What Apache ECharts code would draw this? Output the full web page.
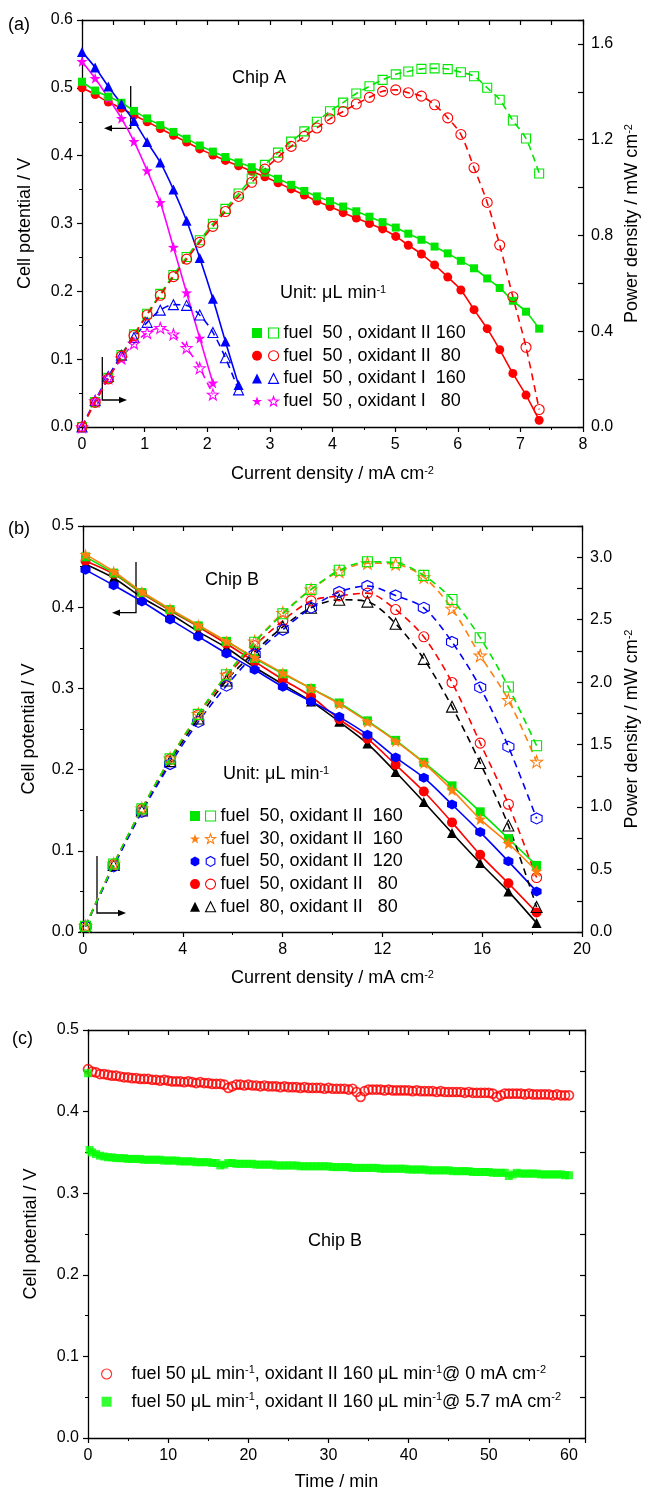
<!DOCTYPE html>
<html><head><meta charset="utf-8">
<script src="https://cdn.jsdelivr.net/npm/echarts@6/dist/echarts.min.js"></script>
<style>html,body{margin:0;padding:0;background:#fff}#c{width:649px;height:1493px}</style>
</head><body><div id="c"></div>
<script>
// ---------- Panel (a): Chip A ----------
const aX = [0,0.21,0.42,0.63,0.83,1.04,1.25,1.46,1.67,1.88,2.09,2.29,2.5,2.71,2.92,3.13,3.34,3.55,3.75,3.96,4.17,4.38,4.59,4.8,5.01,5.21,5.42,5.63,5.84,6.05,6.26,6.47,6.67,6.88,7.09,7.3];
const aGreenV = [0.509,0.496,0.487,0.478,0.466,0.455,0.445,0.435,0.425,0.415,0.406,0.398,0.39,0.383,0.375,0.366,0.357,0.348,0.34,0.333,0.325,0.318,0.31,0.302,0.294,0.285,0.276,0.266,0.256,0.245,0.234,0.219,0.205,0.186,0.17,0.145];
const aGreenP = [0,0.104,0.205,0.301,0.387,0.473,0.556,0.635,0.71,0.78,0.849,0.911,0.975,1.038,1.095,1.146,1.192,1.235,1.275,1.319,1.355,1.393,1.423,1.45,1.473,1.485,1.496,1.498,1.495,1.482,1.465,1.417,1.367,1.28,1.205,1.059];
const aRedV = [0.5,0.49,0.479,0.47,0.46,0.45,0.44,0.43,0.42,0.41,0.401,0.393,0.385,0.377,0.369,0.36,0.351,0.342,0.333,0.325,0.316,0.308,0.3,0.292,0.281,0.268,0.255,0.239,0.221,0.202,0.173,0.145,0.114,0.079,0.047,0.01];
const aRedP = [0,0.103,0.201,0.296,0.382,0.468,0.55,0.628,0.701,0.771,0.838,0.9,0.963,1.022,1.077,1.127,1.172,1.214,1.249,1.287,1.318,1.349,1.377,1.402,1.408,1.396,1.382,1.346,1.291,1.222,1.083,0.938,0.76,0.544,0.333,0.073];
const aBlueX = [0,0.21,0.42,0.63,0.83,1.04,1.25,1.46,1.67,1.88,2.09,2.29,2.5];
const aBlueV = [0.553,0.53,0.502,0.476,0.451,0.42,0.39,0.35,0.304,0.249,0.189,0.126,0.062];
const aBlueP = [0,0.111,0.211,0.3,0.374,0.437,0.488,0.511,0.508,0.468,0.395,0.289,0.155];
const aMagX = [0,0.21,0.42,0.63,0.83,1.04,1.25,1.46,1.67,1.88,2.09];
const aMagV = [0.539,0.514,0.485,0.455,0.421,0.378,0.331,0.265,0.198,0.131,0.065];
const aMagP = [0,0.108,0.204,0.287,0.349,0.393,0.414,0.387,0.331,0.246,0.136];
const aNames = ['fuel  50 , oxidant II 160','fuel  50 , oxidant II  80','fuel  50 , oxidant I  160','fuel  50 , oxidant I   80'];

// ---------- Panel (b): Chip B ----------
const bX = [0.1,1.23,2.36,3.49,4.62,5.75,6.88,8.01,9.14,10.27,11.4,12.53,13.66,14.79,15.92,17.05,18.18];
const bGreenV = [0.462,0.442,0.418,0.397,0.377,0.358,0.337,0.318,0.3,0.282,0.26,0.236,0.209,0.18,0.148,0.115,0.082];
const bGreenP = [0.046,0.544,0.986,1.386,1.742,2.059,2.319,2.547,2.742,2.896,2.964,2.957,2.855,2.662,2.356,1.961,1.491];
const bOrangeV = [0.465,0.444,0.419,0.398,0.378,0.358,0.338,0.319,0.3,0.281,0.259,0.235,0.208,0.175,0.139,0.109,0.075];
const bOrangeP = [0.047,0.546,0.989,1.389,1.746,2.059,2.325,2.555,2.742,2.886,2.953,2.945,2.841,2.588,2.213,1.858,1.364];
const bBlueV = [0.446,0.427,0.407,0.385,0.364,0.343,0.323,0.302,0.284,0.265,0.243,0.215,0.19,0.157,0.123,0.087,0.05];
const bBlueP = [0.045,0.525,0.961,1.344,1.682,1.972,2.222,2.419,2.596,2.722,2.77,2.694,2.595,2.322,1.958,1.483,0.909];
const bRedV = [0.457,0.441,0.417,0.396,0.376,0.355,0.333,0.311,0.29,0.262,0.238,0.206,0.173,0.135,0.095,0.06,0.024];
const bRedP = [0.046,0.542,0.984,1.382,1.737,2.041,2.291,2.491,2.651,2.691,2.713,2.581,2.363,1.997,1.512,1.023,0.436];
const bBlackV = [0.453,0.436,0.412,0.392,0.37,0.35,0.326,0.305,0.284,0.259,0.232,0.197,0.16,0.122,0.085,0.05,0.011];
const bBlackP = [0.045,0.536,0.972,1.368,1.709,2.013,2.243,2.443,2.596,2.66,2.645,2.468,2.186,1.804,1.353,0.853,0.2];
const bNames = ['fuel  50, oxidant II  160','fuel  30, oxidant II  160','fuel  50, oxidant II  120','fuel  50, oxidant II   80','fuel  80, oxidant II   80'];

// ---------- Panel (c): stability ----------
const cRedT = [0,0.5,1,1.5,2,2.5,3,3.5,4,4.5,5,5.5,6,6.5,7,7.5,8,8.5,9,9.5,10,10.5,11,11.5,12,12.5,13,13.5,14,14.5,15,15.5,16,16.5,17,17.5,18,18.5,19,19.5,20,20.5,21,21.5,22,22.5,23,23.5,24,24.5,25,25.5,26,26.5,27,27.5,28,28.5,29,29.5,30,30.5,31,31.5,32,32.5,33,33.5,34,34.5,35,35.5,36,36.5,37,37.5,38,38.5,39,39.5,40,40.5,41,41.5,42,42.5,43,43.5,44,44.5,45,45.5,46,46.5,47,47.5,48,48.5,49,49.5,50,50.5,51,51.5,52,52.5,53,53.5,54,54.5,55,55.5,56,56.5,57,57.5,58,58.5,59,59.5,60];
const cRedV = [0.452,0.449,0.448,0.446,0.446,0.445,0.444,0.444,0.443,0.442,
 0.442,0.441,0.441,0.440,0.440,0.440,0.439,0.439,0.438,0.439,
 0.438,0.437,0.437,0.437,0.436,0.437,0.436,0.435,0.436,0.435,
 0.435,0.434,0.434,0.434,0.433,0.429,0.431,0.433,0.433,0.432,
 0.433,0.432,0.432,0.431,0.432,0.431,0.431,0.431,0.430,0.431,
 0.430,0.430,0.430,0.429,0.430,0.429,0.429,0.429,0.429,0.428,
 0.429,0.428,0.428,0.428,0.428,0.427,0.428,0.424,0.418,0.425,
 0.427,0.427,0.427,0.427,0.426,0.427,0.426,0.426,0.426,0.426,
 0.426,0.425,0.426,0.425,0.425,0.425,0.425,0.424,0.425,0.424,
 0.424,0.424,0.424,0.424,0.423,0.424,0.423,0.423,0.423,0.423,
 0.423,0.422,0.418,0.420,0.422,0.422,0.422,0.422,0.422,0.421,
 0.422,0.421,0.421,0.421,0.421,0.421,0.420,0.421,0.420,0.420,
 0.420];
const cGreenT = [0,0.2,0.5,1,1.5,2,2.5,3,3.5,4,4.5,5,5.5,6,6.5,7,7.5,8,8.5,9,9.5,10,10.5,11,11.5,12,12.5,13,13.5,14,14.5,15,15.5,16,16.5,17,17.5,18,18.5,19,19.5,20,20.5,21,21.5,22,22.5,23,23.5,24,24.5,25,25.5,26,26.5,27,27.5,28,28.5,29,29.5,30,30.5,31,31.5,32,32.5,33,33.5,34,34.5,35,35.5,36,36.5,37,37.5,38,38.5,39,39.5,40,40.5,41,41.5,42,42.5,43,43.5,44,44.5,45,45.5,46,46.5,47,47.5,48,48.5,49,49.5,50,50.5,51,51.5,52,52.5,53,53.5,54,54.5,55,55.5,56,56.5,57,57.5,58,58.5,59,59.5,60];
const cGreenV = [0.447,0.353,
 0.350,0.348,0.346,0.345,0.344,0.344,0.343,0.343,0.343,0.342,
 0.342,0.342,0.342,0.341,0.341,0.341,0.341,0.341,0.340,0.340,
 0.340,0.340,0.339,0.339,0.339,0.339,0.338,0.338,0.338,0.338,
 0.337,0.337,0.334,0.335,0.337,0.337,0.336,0.336,0.336,0.336,
 0.336,0.335,0.335,0.335,0.335,0.335,0.334,0.334,0.334,0.334,
 0.334,0.334,0.333,0.333,0.333,0.333,0.333,0.333,0.333,0.333,
 0.332,0.332,0.332,0.332,0.332,0.331,0.331,0.331,0.331,0.331,
 0.331,0.331,0.330,0.330,0.330,0.330,0.330,0.330,0.330,0.329,
 0.329,0.329,0.329,0.329,0.328,0.328,0.328,0.328,0.328,0.328,
 0.327,0.327,0.327,0.327,0.327,0.326,0.326,0.326,0.326,0.326,
 0.325,0.325,0.325,0.325,0.321,0.323,0.325,0.324,0.324,0.324,
 0.324,0.324,0.323,0.323,0.323,0.323,0.323,0.323,0.322,0.322];
const cLegend = {
  cRed: '   fuel 50 \u03bcL min{s|-1}, oxidant II 160 \u03bcL min{s|-1}@ 0 mA cm{s|-2}',
  cGreen: '   fuel 50 \u03bcL min{s|-1}, oxidant II 160 \u03bcL min{s|-1}@ 5.7 mA cm{s|-2}'
};

// ---------- styling helpers ----------
const FONT = 'Liberation Sans, Arial, Helvetica, sans-serif';
const STAR = 'path://M0,-10L2.35,-3.24L9.51,-3.09L3.8,1.24L5.88,8.09L0,4L-5.88,8.09L-3.8,1.24L-9.51,-3.09L-2.35,-3.24Z';
const HEX = 'path://M0,-10L8.66,-5L8.66,5L0,10L-8.66,5L-8.66,-5Z';
const GREEN = '#00e600', RED = '#ff0000', BLUE = '#0000ff', MAG = '#ff00ff', ORANGE = '#ff7f0f', BLACK = '#000000';
const HOLLOW = 'rgba(255,255,255,0)';
const SUP = {s: {fontSize: 11, lineHeight: 11, verticalAlign: 'top'}};

function pairs(xs, ys) { return xs.map((x, i) => [x, ys[i]]); }
function lineS(name, ai, xs, ys, color, symbol, size, open, dashed, z) {
  return {
    name, type: 'line', xAxisIndex: ai.x, yAxisIndex: ai.y, data: pairs(xs, ys),
    symbol, symbolSize: size, smooth: 0.3, z: z || 3, silent: true,
    lineStyle: {color, width: 1.6, type: dashed ? [7, 5] : 'solid'},
    itemStyle: open ? {color: HOLLOW, borderColor: color, borderWidth: 1.1} : {color, borderWidth: 0},
    emphasis: {disabled: true}
  };
}
function iconItem(name, icon, color, open, bw) {
  return {name, icon, itemStyle: open ? {color: HOLLOW, borderColor: color, borderWidth: bw || 1.1} : {color, borderWidth: 0}};
}
const axLine = {onZero: false, lineStyle: {color: '#000', width: 1.3}};
function bottomX(grid, min, max, interval, name, gap) {
  return {gridIndex: grid, type: 'value', min, max, interval, position: 'bottom',
    name, nameLocation: 'middle', nameGap: gap, nameMoveOverlap: false,
    nameTextStyle: {fontSize: 18, color: '#000', fontFamily: FONT, rich: SUP},
    axisLine: axLine, splitLine: {show: false},
    axisTick: {inside: false, length: 5, lineStyle: {color: '#000', width: 1.2}},
    minorTick: {show: true, splitNumber: 2, length: 3, lineStyle: {color: '#000', width: 1}},
    axisLabel: {fontSize: 16, margin: 10, color: '#000', fontFamily: FONT,
      formatter: v => (Math.abs(v / interval - Math.round(v / interval)) < 1e-6 ? String(v) : '')}};
}
function topX(grid, min, max, interval) {
  return {gridIndex: grid, type: 'value', min, max, interval, position: 'top',
    axisLine: axLine, splitLine: {show: false}, axisLabel: {show: false},
    axisTick: {inside: true, length: 5, lineStyle: {color: '#000', width: 1.2}}};
}
function leftY(grid, min, max, interval, name, gap) {
  return {gridIndex: grid, type: 'value', min, max, interval, position: 'left',
    name, nameLocation: 'middle', nameGap: gap, nameRotate: 90, nameMoveOverlap: false,
    nameTextStyle: {fontSize: 18, color: '#000', fontFamily: FONT, rich: SUP},
    axisLine: axLine, splitLine: {show: false},
    axisTick: {inside: false, length: 5, lineStyle: {color: '#000', width: 1.2}},
    minorTick: {show: true, splitNumber: 2, length: 3, lineStyle: {color: '#000', width: 1}},
    axisLabel: {fontSize: 16, margin: 9, color: '#000', fontFamily: FONT, formatter: v => v.toFixed(1)}};
}
function rightY(grid, min, max, interval, labelEvery, name, gap) {
  return {gridIndex: grid, type: 'value', min, max, interval, position: 'right',
    name, nameLocation: 'middle', nameGap: gap, nameRotate: 90, nameMoveOverlap: false,
    nameTextStyle: {fontSize: 18, color: '#000', fontFamily: FONT, rich: SUP},
    axisLine: axLine, splitLine: {show: false},
    axisTick: {inside: true, length: 5, lineStyle: {color: '#000', width: 1.2}},
    axisLabel: {show: !!labelEvery, fontSize: 16, margin: 8, color: '#000', fontFamily: FONT,
      formatter: v => (labelEvery && Math.abs(v / labelEvery - Math.round(v / labelEvery)) < 1e-6 ? v.toFixed(1) : '')}};
}
function titleText(text, left, top, size) {
  return {text, left, top, padding: 0, textStyle: {fontSize: size || 18, fontWeight: 'normal', color: '#000', fontFamily: FONT, rich: {s: {fontSize: 11, lineHeight: 11, verticalAlign: 'top'}}}};
}
function arrow(vx, y0, y1, x1, dir) {
  const tip = x1 + dir * 5;
  return [
    {type: 'polyline', silent: true, shape: {points: [[vx, y0], [vx, y1], [x1, y1]]}, style: {stroke: '#000', lineWidth: 1.3, fill: null}},
    {type: 'polygon', silent: true, shape: {points: [[tip, y1], [x1 - dir * 3, y1 - 3.2], [x1 - dir * 3, y1 + 3.2]]}, style: {fill: '#000'}}
  ];
}

const A = {x: 0, y: 0}, AP = {x: 0, y: 1}, B = {x: 2, y: 2}, BP = {x: 2, y: 3};

const series = [
  // panel (a) cell potential
  lineS('aV0', A, aX, aRedV, RED, 'circle', 9, false, false, 3),
  lineS('aV1', A, aX, aGreenV, GREEN, 'rect', 8, false, false, 4),
  lineS('aV3', A, aMagX, aMagV, MAG, STAR, 11, false, false, 3),
  lineS('aV2', A, aBlueX, aBlueV, BLUE, 'triangle', 10, false, false, 4),
  // panel (a) power density
  lineS(aNames[0], AP, aX, aGreenP, GREEN, 'rect', 9, true, true, 3),
  lineS(aNames[1], AP, aX, aRedP, RED, 'circle', 10, true, true, 4),
  lineS(aNames[2], AP, aBlueX, aBlueP, BLUE, 'triangle', 10, true, true, 3),
  lineS(aNames[3], AP, aMagX, aMagP, MAG, STAR, 11, true, true, 3),
  // panel (b) cell potential
  lineS('bV4', B, bX, bBlackV, BLACK, 'triangle', 10, false, false, 3),
  lineS('bV3', B, bX, bRedV, RED, 'circle', 10, false, false, 3),
  lineS('bV2', B, bX, bBlueV, BLUE, HEX, 10, false, false, 3),
  lineS('bV0', B, bX, bGreenV, GREEN, 'rect', 9, false, false, 3),
  lineS('bV1', B, bX, bOrangeV, ORANGE, STAR, 12, false, false, 4),
  // panel (b) power density
  lineS(bNames[4], BP, bX, bBlackP, BLACK, 'triangle', 11, true, true, 3),
  lineS(bNames[3], BP, bX, bRedP, RED, 'circle', 10, true, true, 3),
  lineS(bNames[2], BP, bX, bBlueP, BLUE, HEX, 11, true, true, 3),
  lineS(bNames[1], BP, bX, bOrangeP, ORANGE, STAR, 12, true, true, 3),
  lineS(bNames[0], BP, bX, bGreenP, GREEN, 'rect', 10, true, true, 4),
  // panel (c)
  {name: 'cRed', type: 'scatter', xAxisIndex: 4, yAxisIndex: 4, data: pairs(cRedT, cRedV), symbol: 'circle', symbolSize: 9,
   itemStyle: {color: HOLLOW, borderColor: RED, borderWidth: 1.7}, silent: true, emphasis: {disabled: true}},
  {name: 'cGreen', type: 'scatter', xAxisIndex: 4, yAxisIndex: 4, data: pairs(cGreenT, cGreenV), symbol: 'rect', symbolSize: 8,
   itemStyle: {color: '#00ff00', borderWidth: 0}, silent: true, emphasis: {disabled: true}}
];

const legendBase = {orient: 'vertical', itemWidth: 10, itemHeight: 10, padding: 0, selectedMode: false,
  textStyle: {fontSize: 18, lineHeight: 20, color: '#000', fontFamily: FONT}};

const option = {
  animation: false,
  backgroundColor: '#fff',
  textStyle: {fontFamily: FONT, color: '#000'},
  grid: [
    {left: 82, top: 20, width: 501, height: 407},
    {left: 83, top: 526, width: 503, height: 406},
    {left: 88, top: 1030, width: 497, height: 408}
  ],
  xAxis: [
    bottomX(0, 0, 8, 1, 'Current density / mA cm{s|-2}', 38),
    topX(0, 0, 8, 0.5),
    bottomX(1, 0, 20, 4, 'Current density / mA cm{s|-2}', 37),
    topX(1, 0, 20, 2),
    bottomX(2, 0, 62, 10, 'Time / min', 35),
    topX(2, 0, 62, 5)
  ],
  yAxis: [
    leftY(0, 0, 0.6, 0.1, 'Cell potential / V', 48),
    rightY(0, 0, 1.7, 0.2, 0.4, 'Power density / mW cm{s|-2}', 40),
    leftY(1, 0, 0.5, 0.1, 'Cell potential / V', 45),
    rightY(1, 0, 3.25, 0.25, 0.5, 'Power density / mW cm{s|-2}', 41),
    leftY(2, 0, 0.5, 0.1, 'Cell potential / V', 48),
    rightY(2, 0, 0.5, 0.05, 0, '', 0)
  ],
  title: [
    titleText('(a)', 8, 16),
    titleText('Chip A', 232, 69),
    titleText('Unit: \u03bcL min{s|-1}', 280, 284),
    titleText('(b)', 8, 520),
    titleText('Chip B', 205, 571),
    titleText('Unit: \u03bcL min{s|-1}', 223, 765),
    titleText('(c)', 12, 1030),
    titleText('Chip B', 308, 1232)
  ],
  legend: [
    Object.assign({}, legendBase, {left: 252, top: 323, itemGap: 2.7, formatter: () => ' ',
      data: [iconItem('aV1', 'rect', GREEN, false), iconItem('aV0', 'circle', RED, false), iconItem('aV2', 'triangle', BLUE, false), iconItem('aV3', STAR, MAG, false)]}),
    Object.assign({}, legendBase, {left: 268, top: 323, itemGap: 2.7,
      data: [iconItem(aNames[0], 'rect', GREEN, true), iconItem(aNames[1], 'circle', RED, true), iconItem(aNames[2], 'triangle', BLUE, true), iconItem(aNames[3], STAR, MAG, true)]}),
    Object.assign({}, legendBase, {left: 190, top: 806, itemGap: 2.7, formatter: () => ' ',
      data: [iconItem('bV0', 'rect', GREEN, false), iconItem('bV1', STAR, ORANGE, false), iconItem('bV2', HEX, BLUE, false), iconItem('bV3', 'circle', RED, false), iconItem('bV4', 'triangle', BLACK, false)]}),
    Object.assign({}, legendBase, {left: 205, top: 806, itemGap: 2.7,
      data: [iconItem(bNames[0], 'rect', GREEN, true), iconItem(bNames[1], STAR, ORANGE, true), iconItem(bNames[2], HEX, BLUE, true), iconItem(bNames[3], 'circle', RED, true), iconItem(bNames[4], 'triangle', BLACK, true)]}),
    Object.assign({}, legendBase, {left: 101, top: 1364, itemGap: 7.7,
      textStyle: {fontSize: 18, lineHeight: 20, color: '#000', fontFamily: FONT, rich: SUP},
      formatter: n => cLegend[n],
      data: [iconItem('cRed', 'circle', RED, true, 1.2), iconItem('cGreen', 'rect', '#00ff00', false)]})
  ],
  graphic: [].concat(
    arrow(130.7, 86, 128.3, 109, -1),
    arrow(102.3, 357, 400, 122, 1),
    arrow(136, 562, 612.7, 117, -1),
    arrow(97, 856, 913, 121, 1)
  ),
  series
};

const chart = echarts.init(document.getElementById('c'), null, {renderer: 'canvas', width: 649, height: 1493});
chart.setOption(option);
</script>
</body></html>
